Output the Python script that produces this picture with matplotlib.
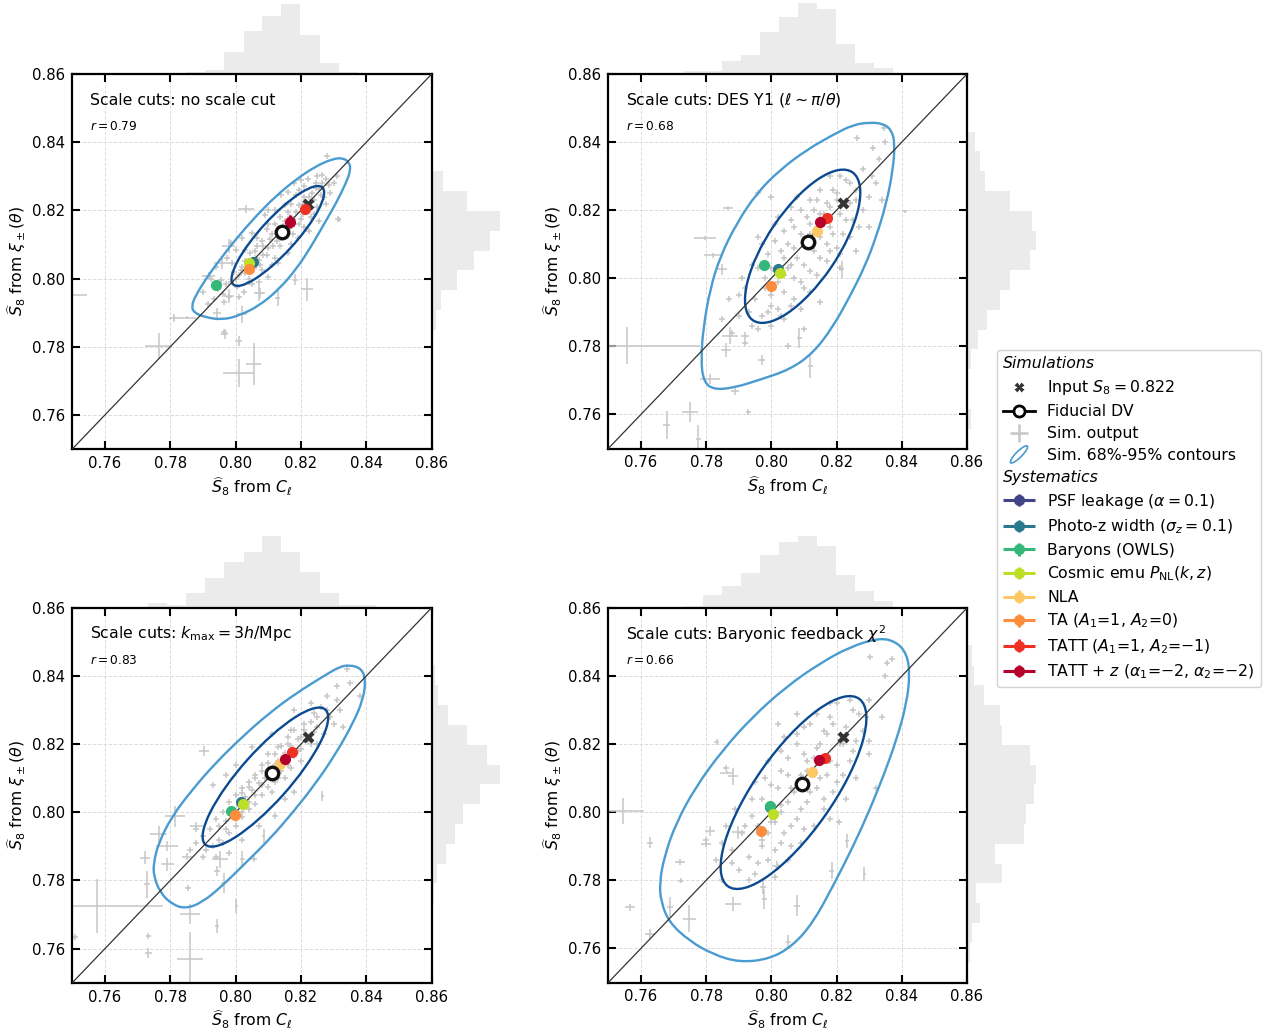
import numpy as np
import matplotlib
matplotlib.use('Agg')
import matplotlib.pyplot as plt
from matplotlib.lines import Line2D
from matplotlib.patches import Ellipse, PathPatch
from matplotlib.path import Path
from matplotlib.legend_handler import HandlerPatch, HandlerErrorbar

W, H = 1267, 1034
plt.rcParams['font.family'] = ['DejaVu Sans']
plt.rcParams['font.size'] = 11.3

# ---------------- data ----------------
TITLES = ['Scale cuts: no scale cut',
          r'Scale cuts: DES Y1 ($\ell \sim \pi/\theta$)',
          r'Scale cuts: $k_{\rm max} = 3h/{\rm Mpc}$',
          r'Scale cuts: Baryonic feedback $\chi^2$']
R_VALUES = [0.79, 0.68, 0.83, 0.66]
S8_INPUT = 0.822

SYS_LABELS = [r'PSF leakage ($\alpha = 0.1$)',
              r'Photo-z width ($\sigma_z = 0.1$)',
              'Baryons (OWLS)',
              r'Cosmic emu $P_{\rm NL}(k, z)$',
              'NLA',
              r'TA ($A_1$=1, $A_2$=0)',
              r'TATT ($A_1$=1, $A_2$=$-$1)',
              r'TATT + $z$ ($\alpha_1$=$-$2, $\alpha_2$=$-$2)']
SYS_COLORS = ['#414487', '#2a788e', '#35b779', '#bddf26',
              '#fec965', '#fd8d3c', '#ef3124', '#b5002b']

SYS_X = [[0.8140, 0.8053, 0.7941, 0.8041, 0.8145, 0.8041, 0.8213, 0.8167],
         [0.8113, 0.8019, 0.7979, 0.8027, 0.8139, 0.7999, 0.8172, 0.8149],
         [0.8110, 0.8017, 0.7985, 0.8022, 0.8136, 0.7997, 0.8171, 0.8151],
         [0.8094, 0.7995, 0.7997, 0.8005, 0.8124, 0.7967, 0.8164, 0.8146]]
SYS_Y = [[0.8136, 0.8049, 0.7981, 0.8045, 0.8140, 0.8027, 0.8203, 0.8167],
         [0.8108, 0.8028, 0.8040, 0.8015, 0.8138, 0.7978, 0.8177, 0.8164],
         [0.8115, 0.8030, 0.8004, 0.8024, 0.8142, 0.7991, 0.8176, 0.8157],
         [0.8083, 0.8016, 0.8018, 0.7995, 0.8117, 0.7946, 0.8159, 0.8153]]
SYS_YERR = [[0.0005, 0.0005, 0.0005, 0.0005, 0.0005, 0.0005, 0.0005, 0.0018],
            [0.0005] * 8, [0.0005] * 8, [0.0005] * 8]

FID_X = [0.8142, 0.8113, 0.8110, 0.8094]
FID_Y = [0.8137, 0.8108, 0.8115, 0.8083]

# 68% contours: centre x, centre y, width, height, angle
ELL68 = [(0.8129, 0.8125, 0.0394, 0.0105, 46.1),
         (0.8096, 0.8094, 0.0531, 0.0214, 54.6),
         (0.8091, 0.8103, 0.0540, 0.0150, 47.0),
         (0.8068, 0.8058, 0.0682, 0.0236, 53.6)]

C95_1_X = [0.8328, 0.8349, 0.8351, 0.8338, 0.8308, 0.8267, 0.8226, 0.8185, 0.8133, 0.8072, 0.8010, 0.7959,
           0.7908, 0.7872, 0.7865, 0.7877, 0.7908, 0.7949, 0.8000, 0.8062, 0.8123, 0.8185, 0.8246, 0.8297]
C95_1_Y = [0.8354, 0.8340, 0.8315, 0.8281, 0.8222, 0.8154, 0.8086, 0.8027, 0.7969, 0.7920, 0.7891, 0.7879,
           0.7886, 0.7900, 0.7920, 0.7949, 0.7998, 0.8052, 0.8115, 0.8183, 0.8242, 0.8291, 0.8330, 0.8351]
C95_2_X = [0.8302, 0.8343, 0.8368, 0.8379, 0.8373, 0.8353, 0.8322, 0.8287, 0.8241, 0.8190, 0.8129, 0.8057, 0.7965,
           0.7884, 0.7822, 0.7792, 0.7784, 0.7792, 0.7812, 0.7843, 0.7894, 0.7955, 0.8027, 0.8108, 0.8190, 0.8251]
C95_2_Y = [0.8458, 0.8454, 0.8436, 0.8397, 0.8319, 0.8221, 0.8123, 0.8035, 0.7947, 0.7859, 0.7781, 0.7732, 0.7702,
           0.7678, 0.7673, 0.7697, 0.7761, 0.7859, 0.7967, 0.8064, 0.8162, 0.8250, 0.8319, 0.8377, 0.8422, 0.8451]
C95_3_X = [0.8349, 0.8385, 0.8398, 0.8390, 0.8359, 0.8308, 0.8246, 0.8174, 0.8103, 0.8031, 0.7959, 0.7897, 0.7846,
           0.7805, 0.7769, 0.7749, 0.7749, 0.7764, 0.7805, 0.7867, 0.7938, 0.8021, 0.8103, 0.8185, 0.8267, 0.8318]
C95_3_Y = [0.8432, 0.8422, 0.8388, 0.8330, 0.8261, 0.8174, 0.8086, 0.7998, 0.7920, 0.7852, 0.7784, 0.7735, 0.7717,
           0.7730, 0.7764, 0.7813, 0.7852, 0.7910, 0.7988, 0.8066, 0.8144, 0.8222, 0.8291, 0.8349, 0.8398, 0.8427]
C95_4_X = [0.8333, 0.8384, 0.8415, 0.8425, 0.8415, 0.8384, 0.8343, 0.8302, 0.8251, 0.8189, 0.8128, 0.8066, 0.7995, 0.7902,
           0.7820, 0.7749, 0.7687, 0.7662, 0.7657, 0.7672, 0.7708, 0.7769, 0.7851, 0.7943, 0.8046, 0.8148, 0.8241]
C95_4_Y = [0.8513, 0.8500, 0.8466, 0.8408, 0.8320, 0.8213, 0.8105, 0.8008, 0.7900, 0.7783, 0.7676, 0.7608, 0.7569, 0.7559,
           0.7583, 0.7622, 0.7676, 0.7735, 0.7793, 0.7871, 0.7969, 0.8076, 0.8183, 0.8281, 0.8369, 0.8437, 0.8486]
C95_X = [C95_1_X, C95_2_X, C95_3_X, C95_4_X]
C95_Y = [C95_1_Y, C95_2_Y, C95_3_Y, C95_4_Y]

# sim outputs with tiny error bars (x, y)
CLOUD1 = [(0.8265, 0.8305), (0.8277, 0.8291), (0.8246, 0.8281), (0.8221, 0.8291), (0.8313, 0.8174), (0.8255, 0.8262),
          (0.8235, 0.8250), (0.8210, 0.8240), (0.8195, 0.8215), (0.8230, 0.8225), (0.8185, 0.8245), (0.8170, 0.8220),
          (0.8160, 0.8195), (0.8205, 0.8190), (0.8150, 0.8170), (0.8135, 0.8180), (0.8120, 0.8160), (0.8175, 0.8175),
          (0.8110, 0.8130), (0.8095, 0.8145), (0.8150, 0.8135), (0.8125, 0.8110), (0.8080, 0.8110), (0.8100, 0.8090),
          (0.8065, 0.8095), (0.8135, 0.8095), (0.8060, 0.8060), (0.8085, 0.8070), (0.8045, 0.8075), (0.8075, 0.8040),
          (0.8030, 0.8050), (0.8055, 0.8030), (0.8020, 0.8035), (0.8010, 0.8010), (0.8040, 0.8000), (0.7995, 0.8020),
          (0.7985, 0.7990), (0.8005, 0.7975), (0.7970, 0.7985), (0.7960, 0.7955), (0.7980, 0.7945), (0.7945, 0.7970),
          (0.8025, 0.7960), (0.7940, 0.8035), (0.7975, 0.8060), (0.8000, 0.8085), (0.7985, 0.8105), (0.8020, 0.8120),
          (0.8050, 0.8135), (0.8090, 0.8185), (0.8100, 0.8200), (0.8255, 0.8170), (0.8225, 0.8140), (0.8190, 0.8120),
          (0.8160, 0.8075), (0.8110, 0.8040), (0.8070, 0.7990), (0.8275, 0.8220), (0.8290, 0.8250), (0.8180, 0.8280),
          (0.8140, 0.8245), (0.8280, 0.8358), (0.7964, 0.7842),
          (0.8000, 0.8000), (0.8015, 0.8025), (0.8030, 0.8015), (0.8045, 0.8040), (0.8060, 0.8080), (0.8070, 0.8055),
          (0.8085, 0.8095), (0.8095, 0.8070), (0.8105, 0.8115), (0.8115, 0.8095), (0.8125, 0.8140), (0.8140, 0.8120),
          (0.8145, 0.8155), (0.8160, 0.8145), (0.8165, 0.8180), (0.8180, 0.8160), (0.8185, 0.8195), (0.8200, 0.8175),
          (0.8205, 0.8220), (0.8215, 0.8205), (0.8225, 0.8240), (0.8240, 0.8230), (0.8245, 0.8265), (0.8260, 0.8245),
          (0.8265, 0.8280), (0.8285, 0.8275), (0.8030, 0.8085), (0.8065, 0.8120), (0.8100, 0.8160), (0.8120, 0.8200),
          (0.8150, 0.8215), (0.8195, 0.8260), (0.8210, 0.8270), (0.8040, 0.7990), (0.8080, 0.8025), (0.8120, 0.8060),
          (0.8170, 0.8100), (0.8210, 0.8150), (0.8240, 0.8190), (0.8270, 0.8240), (0.7955, 0.7995), (0.7990, 0.8045),
          (0.7965, 0.7930), (0.7935, 0.7940), (0.7915, 0.7925), (0.7900, 0.7960), (0.7925, 0.8000), (0.8010, 0.7945),
          (0.8050, 0.7985), (0.8100, 0.8005), (0.8130, 0.8045), (0.8175, 0.8130), (0.8195, 0.8160), (0.8230, 0.8180),
          (0.8250, 0.8210), (0.8300, 0.8280), (0.8310, 0.8300), (0.8250, 0.8300), (0.8200, 0.8290), (0.8160, 0.8255)]
CLOUD2 = [(0.8230, 0.8290), (0.8180, 0.8300), (0.8260, 0.8260), (0.8200, 0.8250), (0.8150, 0.8260), (0.8240, 0.8220),
          (0.8170, 0.8220), (0.8120, 0.8230), (0.8210, 0.8190), (0.8150, 0.8190), (0.8090, 0.8200), (0.8250, 0.8170),
          (0.8180, 0.8150), (0.8120, 0.8160), (0.8060, 0.8170), (0.8220, 0.8130), (0.8150, 0.8120), (0.8090, 0.8130),
          (0.8040, 0.8140), (0.8200, 0.8090), (0.8130, 0.8080), (0.8070, 0.8090), (0.8010, 0.8110), (0.8170, 0.8050),
          (0.8100, 0.8040), (0.8040, 0.8060), (0.7990, 0.8070), (0.8140, 0.8010), (0.8070, 0.8000), (0.8010, 0.8020),
          (0.7960, 0.8030), (0.8100, 0.7970), (0.8040, 0.7960), (0.7980, 0.7970), (0.8060, 0.7920), (0.8000, 0.7920),
          (0.7950, 0.7940), (0.8030, 0.7890), (0.7970, 0.7890), (0.7930, 0.7900), (0.8000, 0.7860), (0.7940, 0.7860),
          (0.8110, 0.8110), (0.8050, 0.8030), (0.8160, 0.8160), (0.8080, 0.8240), (0.8280, 0.8200), (0.8300, 0.8150),
          (0.8260, 0.8080), (0.8210, 0.8030), (0.8150, 0.7930), (0.8020, 0.8180), (0.7960, 0.8120), (0.7910, 0.8000),
          (0.7900, 0.7950), (0.7960, 0.8250), (0.8000, 0.8240), (0.8280, 0.8320), (0.8320, 0.8280), (0.8330, 0.8350),
          (0.8350, 0.8400), (0.7880, 0.7840), (0.7850, 0.7880), (0.7920, 0.7810), (0.8050, 0.7800), (0.8100, 0.7850),
          (0.8313, 0.8383), (0.8262, 0.8412), (0.8344, 0.8442),
          (0.8100, 0.8100), (0.8120, 0.8130), (0.8080, 0.8060), (0.8140, 0.8150), (0.8060, 0.8040), (0.8160, 0.8190),
          (0.8040, 0.8010), (0.8180, 0.8210), (0.8020, 0.7990), (0.8200, 0.8230), (0.8000, 0.7950), (0.8130, 0.8200),
          (0.8070, 0.8150), (0.8050, 0.8100), (0.8030, 0.8080), (0.8000, 0.8030), (0.7980, 0.8000), (0.8170, 0.8100),
          (0.8190, 0.8130), (0.8150, 0.8060), (0.8120, 0.8020), (0.8090, 0.7990), (0.8070, 0.7940), (0.8020, 0.7910),
          (0.8230, 0.8170), (0.8240, 0.8280), (0.8210, 0.8300), (0.8110, 0.8180), (0.8140, 0.8230), (0.8190, 0.8260),
          (0.8060, 0.8210), (0.8010, 0.8160), (0.7970, 0.8100), (0.7940, 0.8040), (0.7920, 0.7970), (0.8180, 0.8080),
          (0.8210, 0.8070), (0.8240, 0.8120), (0.8270, 0.8150), (0.8260, 0.8230), (0.7990, 0.7900), (0.8040, 0.7880),
          (0.7960, 0.7850), (0.8090, 0.7910), (0.8120, 0.7960), (0.7900, 0.7890), (0.7870, 0.7940), (0.8300, 0.8240),
          (0.8310, 0.8300), (0.8340, 0.8230)]
CLOUD3 = [(0.8280, 0.8300), (0.8240, 0.8290), (0.8250, 0.8250), (0.8210, 0.8260), (0.8270, 0.8230), (0.8200, 0.8220),
          (0.8170, 0.8240), (0.8230, 0.8200), (0.8160, 0.8200), (0.8190, 0.8180), (0.8130, 0.8190), (0.8150, 0.8160),
          (0.8100, 0.8170), (0.8120, 0.8140), (0.8170, 0.8130), (0.8080, 0.8140), (0.8100, 0.8110), (0.8060, 0.8110),
          (0.8130, 0.8100), (0.8040, 0.8090), (0.8080, 0.8080), (0.8020, 0.8070), (0.8060, 0.8050), (0.8110, 0.8060),
          (0.8000, 0.8050), (0.8040, 0.8030), (0.7980, 0.8030), (0.8020, 0.8000), (0.7960, 0.8000), (0.8000, 0.7980),
          (0.7940, 0.7980), (0.7970, 0.7950), (0.7920, 0.7950), (0.7950, 0.7920), (0.7900, 0.7930), (0.7930, 0.7900),
          (0.7880, 0.7910), (0.8150, 0.8100), (0.8200, 0.8150), (0.8250, 0.8200), (0.8300, 0.8260), (0.8320, 0.8300),
          (0.8350, 0.8380), (0.8310, 0.8370), (0.8280, 0.8340), (0.8230, 0.8320), (0.8180, 0.8300), (0.8110, 0.8230),
          (0.8050, 0.8190), (0.8000, 0.8140), (0.7970, 0.8110), (0.7930, 0.8080), (0.8180, 0.8060), (0.8120, 0.7990),
          (0.8070, 0.7960), (0.8020, 0.7920), (0.7980, 0.7880), (0.8150, 0.8040), (0.8330, 0.8250), (0.8380, 0.8340),
          (0.8340, 0.8420), (0.8055, 0.7862), (0.7855, 0.7779), (0.7508, 0.7633),
          (0.8090, 0.8100), (0.8110, 0.8125), (0.8070, 0.8085), (0.8130, 0.8150), (0.8050, 0.8065), (0.8150, 0.8175),
          (0.8030, 0.8045), (0.8170, 0.8195), (0.8010, 0.8020), (0.8190, 0.8215), (0.7990, 0.8005), (0.8210, 0.8240),
          (0.7970, 0.7975), (0.8230, 0.8265), (0.7950, 0.7960), (0.8250, 0.8280), (0.8080, 0.8120), (0.8100, 0.8145),
          (0.8120, 0.8170), (0.8060, 0.8100), (0.8040, 0.8075), (0.8020, 0.8055), (0.8140, 0.8195), (0.8160, 0.8220),
          (0.8180, 0.8240), (0.8100, 0.8075), (0.8120, 0.8090), (0.8140, 0.8120), (0.8080, 0.8050), (0.8060, 0.8025),
          (0.8040, 0.8010), (0.8160, 0.8140), (0.8180, 0.8165), (0.8200, 0.8185), (0.8220, 0.8210), (0.8240, 0.8235),
          (0.8020, 0.7985), (0.8000, 0.7960), (0.7980, 0.7940), (0.7960, 0.7910), (0.7910, 0.7890), (0.7940, 0.7870),
          (0.7900, 0.7870), (0.8260, 0.8310), (0.8290, 0.8280), (0.8310, 0.8330), (0.7880, 0.7950), (0.7860, 0.7890)]
CLOUD4 = [(0.8240, 0.8330), (0.8200, 0.8320), (0.8270, 0.8290), (0.8180, 0.8280), (0.8140, 0.8290), (0.8230, 0.8250),
          (0.8160, 0.8240), (0.8100, 0.8250), (0.8210, 0.8200), (0.8140, 0.8190), (0.8080, 0.8200), (0.8250, 0.8180),
          (0.8180, 0.8150), (0.8110, 0.8150), (0.8050, 0.8160), (0.8220, 0.8110), (0.8150, 0.8100), (0.8090, 0.8110),
          (0.8030, 0.8120), (0.8190, 0.8060), (0.8120, 0.8060), (0.8060, 0.8070), (0.8000, 0.8080), (0.8160, 0.8010),
          (0.8090, 0.8010), (0.8030, 0.8020), (0.7970, 0.8040), (0.8130, 0.7960), (0.8060, 0.7960), (0.8000, 0.7970),
          (0.7940, 0.7990), (0.8090, 0.7910), (0.8030, 0.7910), (0.7970, 0.7920), (0.7910, 0.7940), (0.8050, 0.7860),
          (0.7990, 0.7860), (0.7930, 0.7870), (0.7880, 0.7890), (0.8010, 0.7810), (0.7950, 0.7820), (0.7900, 0.7830),
          (0.8280, 0.8240), (0.8300, 0.8170), (0.8260, 0.8100), (0.8230, 0.8040), (0.8180, 0.7980), (0.8040, 0.8220),
          (0.7990, 0.8150), (0.7950, 0.8090), (0.7890, 0.8010), (0.7860, 0.7960), (0.8300, 0.8330), (0.8340, 0.8280),
          (0.8350, 0.8400), (0.8370, 0.8450), (0.7830, 0.7860), (0.7800, 0.7920), (0.7850, 0.7800), (0.8080, 0.8290),
          (0.8020, 0.8260), (0.8320, 0.8070), (0.7860, 0.8130), (0.8303, 0.8457), (0.8354, 0.8438), (0.8208, 0.7970),
          (0.8070, 0.8060), (0.8090, 0.8090), (0.8050, 0.8030), (0.8110, 0.8120), (0.8030, 0.8000), (0.8130, 0.8160),
          (0.8010, 0.7970), (0.8150, 0.8200), (0.7990, 0.7940), (0.8170, 0.8230), (0.7970, 0.7900), (0.8190, 0.8260),
          (0.8100, 0.8170), (0.8050, 0.8110), (0.8020, 0.8070), (0.7990, 0.8010), (0.7960, 0.7960), (0.8140, 0.8070),
          (0.8170, 0.8110), (0.8110, 0.8030), (0.8080, 0.7980), (0.8040, 0.7940), (0.8010, 0.7890), (0.8200, 0.8140),
          (0.8220, 0.8200), (0.8080, 0.8230), (0.8120, 0.8260), (0.8030, 0.8180), (0.7980, 0.8100), (0.7940, 0.8040),
          (0.7920, 0.7960), (0.8160, 0.8040), (0.8200, 0.8090), (0.8240, 0.8150), (0.8260, 0.8210), (0.7960, 0.7850),
          (0.8020, 0.7840), (0.7930, 0.7800), (0.8060, 0.7900), (0.8100, 0.7950), (0.7880, 0.7850), (0.7850, 0.7910),
          (0.8290, 0.8280), (0.8300, 0.8210), (0.8250, 0.8300), (0.8180, 0.8320)]
CLOUDS = [CLOUD1, CLOUD2, CLOUD3, CLOUD4]

# sim outputs with visible error bars (x, y, xerr, yerr)
ERR1 = [(0.8009, 0.7724, 0.0048, 0.0041), (0.8055, 0.7750, 0.0023, 0.0061), (0.7764, 0.7802, 0.0041, 0.0037),
        (0.7810, 0.7885, 0.0015, 0.0012), (0.7850, 0.7885, 0.0030, 0.0005), (0.7966, 0.7838, 0.0010, 0.0015),
        (0.8009, 0.7817, 0.0010, 0.0015), (0.8219, 0.7968, 0.0018, 0.0034), (0.8183, 0.7997, 0.0008, 0.0015),
        (0.8129, 0.7944, 0.0008, 0.0025), (0.8076, 0.7958, 0.0015, 0.0015), (0.7490, 0.7951, 0.0055, 0.0005),
        (0.7943, 0.7900, 0.0012, 0.0015), (0.8020, 0.7895, 0.0015, 0.0025), (0.8031, 0.8203, 0.0025, 0.0012),
        (0.7979, 0.8096, 0.0020, 0.0020), (0.7959, 0.8047, 0.0025, 0.0020), (0.7918, 0.8008, 0.0020, 0.0010),
        (0.7979, 0.7949, 0.0015, 0.0020), (0.8072, 0.7959, 0.0015, 0.0025), (0.8316, 0.8173, 0.0005, 0.0008)]
ERR2 = [(0.7556, 0.7802, 0.0225, 0.0054), (0.7679, 0.7568, 0.0010, 0.0041), (0.7751, 0.7607, 0.0025, 0.0030),
        (0.7776, 0.7529, 0.0008, 0.0040), (0.7797, 0.8119, 0.0033, 0.0006), (0.7822, 0.8067, 0.0030, 0.0008),
        (0.7868, 0.8207, 0.0015, 0.0005), (0.7848, 0.8026, 0.0015, 0.0015), (0.7873, 0.7831, 0.0025, 0.0025),
        (0.7812, 0.7704, 0.0030, 0.0015), (0.7889, 0.7670, 0.0012, 0.0012), (0.7929, 0.7607, 0.0008, 0.0008),
        (0.8086, 0.7824, 0.0008, 0.0030), (0.8119, 0.7743, 0.0008, 0.0035), (0.8216, 0.8026, 0.0008, 0.0025),
        (0.7860, 0.7790, 0.0015, 0.0020), (0.7920, 0.7830, 0.0012, 0.0012), (0.7970, 0.7760, 0.0010, 0.0015),
        (0.8410, 0.8197, 0.0005, 0.0005)]
ERR3 = [(0.7575, 0.7725, 0.0204, 0.0080), (0.7861, 0.7569, 0.0040, 0.0080), (0.7861, 0.7701, 0.0030, 0.0030),
        (0.7764, 0.7935, 0.0025, 0.0025), (0.7815, 0.7988, 0.0030, 0.0030), (0.7790, 0.7901, 0.0035, 0.0015),
        (0.7723, 0.7867, 0.0015, 0.0020), (0.7728, 0.7789, 0.0010, 0.0040), (0.7790, 0.7847, 0.0020, 0.0020),
        (0.7733, 0.7637, 0.0008, 0.0010), (0.7733, 0.7588, 0.0010, 0.0015), (0.7943, 0.7666, 0.0005, 0.0020),
        (0.7953, 0.7862, 0.0025, 0.0025), (0.7943, 0.7827, 0.0008, 0.0015), (0.7963, 0.7793, 0.0008, 0.0030),
        (0.8002, 0.7725, 0.0005, 0.0020), (0.8020, 0.7862, 0.0008, 0.0025), (0.7902, 0.8179, 0.0015, 0.0015),
        (0.8265, 0.8047, 0.0005, 0.0015), (0.8086, 0.7930, 0.0005, 0.0020), (0.7880, 0.7960, 0.0020, 0.0012),
        (0.7850, 0.7870, 0.0015, 0.0010)]
ERR4 = [(0.7544, 0.8004, 0.0064, 0.0037), (0.7628, 0.7911, 0.0010, 0.0015), (0.7567, 0.7721, 0.0015, 0.0010),
        (0.7628, 0.7643, 0.0015, 0.0015), (0.7748, 0.7687, 0.0020, 0.0040), (0.7689, 0.7721, 0.0008, 0.0030),
        (0.7883, 0.7731, 0.0025, 0.0020), (0.7979, 0.7745, 0.0008, 0.0030), (0.8078, 0.7726, 0.0010, 0.0030),
        (0.8052, 0.7619, 0.0008, 0.0020), (0.7863, 0.8116, 0.0020, 0.0005), (0.7883, 0.8106, 0.0015, 0.0025),
        (0.7812, 0.7945, 0.0015, 0.0015), (0.7899, 0.7941, 0.0020, 0.0020), (0.7800, 0.7906, 0.0015, 0.0008),
        (0.7722, 0.7799, 0.0008, 0.0008), (0.8185, 0.7828, 0.0008, 0.0025), (0.8285, 0.7819, 0.0005, 0.0020),
        (0.8231, 0.7916, 0.0006, 0.0020), (0.7975, 0.7780, 0.0010, 0.0020), (0.8016, 0.7843, 0.0015, 0.0015),
        (0.7719, 0.7854, 0.0015, 0.0008), (0.7832, 0.8207, 0.0008, 0.0008)]
ERRS = [ERR1, ERR2, ERR3, ERR4]

# marginal histograms (shared bins)
EDGES = [0.7558, 0.7617, 0.7675, 0.7733, 0.7791, 0.7849, 0.7907, 0.7965, 0.8024,
         0.8082, 0.8140, 0.8198, 0.8257, 0.8315, 0.8373, 0.8431, 0.8490]
HIST_X = [[0, 0, 0, 0, 0, 1.7, 4.3, 21.7, 43.3, 57.7, 70.3, 39.3, 11.3, 2.3, 0, 0],
          [0, 0, 0, 3, 3, 13, 19, 41.7, 56.7, 70.7, 65, 30, 10.7, 5.7, 0, 0],
          [0, 0, 0, 4.3, 2.7, 14.3, 29.3, 45.3, 56, 71.7, 56, 36, 15, 2.7, 2.7, 0],
          [0, 0, 0, 2.3, 13.3, 22.3, 35, 53.3, 65.7, 72.3, 62.3, 33.3, 16.7, 6.7, 0, 0]]
HIST_Y = [[0, 0, 0, 1.0, 1.7, 4.3, 9, 25, 42.3, 58.3, 68.3, 35.7, 11, 1.7, 0, 0],
          [4.3, 0.5, 1, 3.7, 11, 20.3, 33.3, 42.7, 62.7, 68.7, 65.3, 42.7, 17.7, 12.7, 7.7, 0],
          [0, 0, 0, 2.3, 5, 14.3, 23.3, 31, 48.3, 68.3, 55, 35, 16.7, 6.7, 3.3, 0],
          [3.3, 5.3, 12.7, 9.3, 34.7, 28.3, 56.7, 59.3, 66.7, 68.7, 62.7, 35.3, 33.3, 16.7, 6.7, 5]]

TICKS = [0.76, 0.78, 0.80, 0.82, 0.84, 0.86]

# ---------------- layout (pixel boxes of the main panels) ----------------
BOXES = [(72.3, 74, 431.7, 449), (608.3, 74, 967, 448.5),
         (72.3, 607.7, 431.7, 982.7), (608.3, 608, 967, 982.5)]


def rect(x0, y0, x1, y1):
    return [x0 / W, 1 - y1 / H, (x1 - x0) / W, (y1 - y0) / H]


def smooth_outline(xs, ys):
    # closed quadratic-bezier path using the traced points as control points
    pts = np.column_stack([xs, ys])
    mids = (pts + np.roll(pts, -1, axis=0)) / 2
    verts = [mids[-1]]
    codes = [Path.MOVETO]
    for k in range(len(pts)):
        verts += [pts[k], mids[k]]
        codes += [Path.CURVE3, Path.CURVE3]
    return Path(verts, codes)


GRAY = '#c6c6c6'
HCOL = '#ebebeb'
C68 = '#0b4a90'
C95 = '#4a9bd0'

fig = plt.figure(figsize=(W / 100, H / 100), dpi=100)
edges = np.array(EDGES)
widths = np.diff(edges)

sys_handles = []
for i, (x0, y0, x1, y1) in enumerate(BOXES):
    # marginal histograms
    axt = fig.add_axes(rect(x0, y0 - 74, x1, y0))
    axt.bar(edges[:-1], HIST_X[i], width=widths, align='edge', color=HCOL, lw=0)
    axt.set_xlim(0.75, 0.86)
    axt.set_ylim(0, 74)
    axt.axis('off')
    axr = fig.add_axes(rect(x1, y0, x1 + 72, y1))
    axr.barh(edges[:-1], HIST_Y[i], height=widths, align='edge', color=HCOL, lw=0)
    axr.set_ylim(0.75, 0.86)
    axr.set_xlim(0, 72)
    axr.axis('off')

    ax = fig.add_axes(rect(x0, y0, x1, y1))
    ax.set_xlim(0.75, 0.86)
    ax.set_ylim(0.75, 0.86)
    ax.set_xticks(TICKS)
    ax.set_yticks(TICKS)
    ax.set_xticklabels(['%.2f' % t for t in TICKS])
    ax.set_yticklabels(['%.2f' % t for t in TICKS])
    ax.tick_params(direction='in', top=True, right=True, length=6, width=1.5,
                   labelsize=10.7, pad=5)
    for sp in ax.spines.values():
        sp.set_linewidth(1.6)
    ax.set_axisbelow(True)
    ax.grid(True, ls='--', color='#dcdcdc', lw=0.7)

    cl = np.array(CLOUDS[i])
    ax.plot(cl[:, 0], cl[:, 1], '+', color=GRAY, ms=5, mew=1.1, zorder=2)
    er = np.array(ERRS[i])
    ax.errorbar(er[:, 0], er[:, 1], xerr=er[:, 2], yerr=er[:, 3], fmt='none',
                ecolor=GRAY, elinewidth=1.1, zorder=2)

    cx, cy, ew, eh, ang = ELL68[i]
    ax.add_patch(Ellipse((cx, cy), ew, eh, angle=ang, fill=False, ec=C68, lw=1.7, zorder=3))
    ax.add_patch(PathPatch(smooth_outline(C95_X[i], C95_Y[i]), fill=False, ec=C95, lw=1.7, zorder=3))

    ax.axline((0.8, 0.8), slope=1, color='#333333', lw=0.9, zorder=3.5)
    ax.plot([S8_INPUT], [S8_INPUT], 'X', color='#333333', ms=9, mec='none', zorder=4)

    sys_handles = []
    for k in range(8):
        h = ax.errorbar([SYS_X[i][k]], [SYS_Y[i][k]], xerr=[0.0005], yerr=[SYS_YERR[i][k]],
                        fmt='o', color=SYS_COLORS[k], ms=7, elinewidth=2.2, capsize=0, zorder=5)
        sys_handles.append(h)

    ax.plot([FID_X[i]], [FID_Y[i]], 'o', ms=9, mfc='white', mec='#111111', mew=2.4, zorder=6)

    ax.text(0.05, 0.93, TITLES[i], transform=ax.transAxes, fontsize=11.3, va='center', ha='left')
    ax.text(0.05, 0.86, r'$r = %.2f$' % R_VALUES[i], transform=ax.transAxes, fontsize=8.7,
            va='center', ha='left')
    ax.set_xlabel(r'$\widehat{S}_8$ from $C_\ell$', fontsize=11.3, labelpad=3)
    ax.set_ylabel(r'$\widehat{S}_8$ from $\xi_\pm(\theta)$', fontsize=11.3, labelpad=3)


# ---------------- legend ----------------
def make_ellipse(legend, orig_handle, xdescent, ydescent, width, height, fontsize):
    return Ellipse((0.5 * width - xdescent, 0.5 * height - ydescent),
                   width=0.75 * width, height=0.55 * height, angle=45)


head1 = Line2D([], [], ls='none')
head2 = Line2D([], [], ls='none')
h_in = Line2D([], [], ls='none', marker='X', color='#333333', ms=7, mec='none')
h_fid = Line2D([], [], color='black', lw=2, marker='o', ms=8, mfc='white', mec='black', mew=2)
h_sim = Line2D([], [], ls='none', marker='+', color=GRAY, ms=13, mew=1.8)
h_con = Ellipse((0, 0), 1, 1, fill=False, ec=C95, lw=1.2)

handles = [head1, h_in, h_fid, h_sim, h_con, head2] + sys_handles
labels = ['Simulations', r'Input $S_8 = 0.822$', 'Fiducial DV', 'Sim. output',
          'Sim. 68%-95% contours', 'Systematics'] + SYS_LABELS

hmap = {h_con: HandlerPatch(patch_func=make_ellipse)}
for h in sys_handles:
    hmap[h] = HandlerErrorbar(xerr_size=1.0, yerr_size=0.4)

leg = fig.legend(handles, labels, handler_map=hmap, loc='upper left',
                 bbox_to_anchor=(997 / W, 1 - 350 / H), bbox_transform=fig.transFigure,
                 borderaxespad=0, fontsize=11.3, numpoints=1, handlelength=2.0,
                 handletextpad=0.8, labelspacing=0.44, borderpad=0.4, framealpha=0.85,
                 edgecolor='#cccccc', fancybox=True)
shift = (2.0 + 0.8) * 11.3 * 100 / 72
for t in leg.get_texts():
    if t.get_text() in ('Simulations', 'Systematics'):
        t.set_fontstyle('italic')
        t.set_x(-shift)

fig.savefig('out.png', dpi=100)
